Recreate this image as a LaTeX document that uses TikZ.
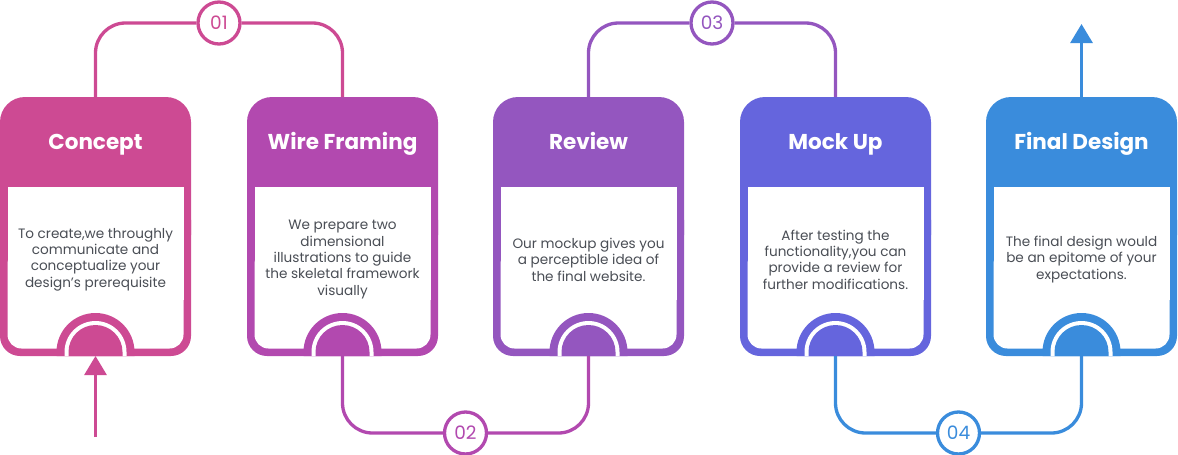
\documentclass[tikz,border=0pt]{standalone}
\usepackage{fontspec}
\setmainfont{Poppins}
\usetikzlibrary{arrows.meta}
\definecolor{cA}{HTML}{CD4A93}
\definecolor{cB}{HTML}{B249AF}
\definecolor{cC}{HTML}{9456BF}
\definecolor{cD}{HTML}{6565DD}
\definecolor{cE}{HTML}{3A8CDC}
\definecolor{bodygray}{HTML}{4A4E55}
\tikzset{
  cardtitle/.style={text=white, font=\fontsize{21.5}{24}\selectfont\bfseries, inner sep=0pt, anchor=base},
  cardbody/.style={text=bodygray, font=\fontsize{13.6}{16.4}\selectfont, align=center, inner sep=0pt},
  numcircle/.style={circle, draw, fill=white, line width=3.3pt, minimum size=42pt, inner sep=0pt, font=\fontsize{18.5}{18}\selectfont},
  loopline/.style={line width=3.3pt, rounded corners=30pt},
}
\newcommand{\mycard}[5]{%
  \fill[#3, rounded corners=25pt] ({#2-95.5},97) rectangle ({#2+95.5},260);
  \fill[#3, rounded corners=20pt] ({#2-95.5},200) rectangle ({#2+95.5},356);
  \fill[white] ({#2-88},187) rectangle ({#2+88},300);
  \fill[white, rounded corners=14pt] ({#2-88},250) rectangle ({#2+88},348.5);
  \fill[#3] ({#2-39},356) -- ({#2-39},352) arc[start angle=180, end angle=360, radius=39] -- ({#2+39},356) -- cycle;
  \fill[white] ({#2-31},356) -- ({#2-31},352) arc[start angle=180, end angle=360, radius=31] -- ({#2+31},356) -- cycle;
  \fill[#3] ({#2-27},356) -- ({#2-27},352) arc[start angle=180, end angle=360, radius=27] -- ({#2+27},356) -- cycle;
  \node[cardtitle] (#1h) at (#2,149.5) {#4};
  \node[cardbody] (#1b) at (#2,259.5) {#5};
  \coordinate (#1t) at (#2,97);
  \coordinate (#1d) at (#2,356);
}
\begin{document}
\begin{tikzpicture}[x=1pt, y=-1pt]
\useasboundingbox (0,0) rectangle (1178,455);

\mycard{k1}{95.5}{cA}{Concept}{To create,we throughly\\communicate and\\conceptualize your\\design’s prerequisite}
\mycard{k2}{342.5}{cB}{Wire Framing}{We prepare two\\dimensional\\illustrations to guide\\the skeletal framework\\visually}
\mycard{k3}{588.5}{cC}{Review}{Our mockup gives you\\a perceptible idea of\\the final website.}
\mycard{k4}{835.5}{cD}{Mock Up}{After testing the\\functionality,you can\\provide a review for\\further modifications.}
\mycard{k5}{1081.5}{cE}{Final Design}{The final design would\\be an epitome of your\\expectations.}

\node[numcircle, draw=cA, text=cA] (n1) at (219,23) {01};
\node[numcircle, draw=cB, text=cB] (n2) at (465.5,433) {02};
\node[numcircle, draw=cC, text=cC] (n3) at (712,23) {03};
\node[numcircle, draw=cE, text=cE] (n4) at (958.5,433) {04};

\draw[loopline, cA] (k1t) |- (n1) -| (k2t);
\draw[loopline, cB] (k2d) |- (n2) -| (k3d);
\draw[loopline, cC] (k3t) |- (n3) -| (k4t);
\draw[loopline, cE] (k4d) |- (n4) -| (k5d);

\coordinate (startarrow) at (95.5,437);
\coordinate (endarrow) at (1081.5,24);
\draw[cA, line width=3pt, -{Triangle[width=22pt, length=19pt]}] (startarrow) -- (k1d);
\draw[cE, line width=3pt, -{Triangle[width=22pt, length=19pt]}] (k5t) -- (endarrow);
\end{tikzpicture}
\end{document}
